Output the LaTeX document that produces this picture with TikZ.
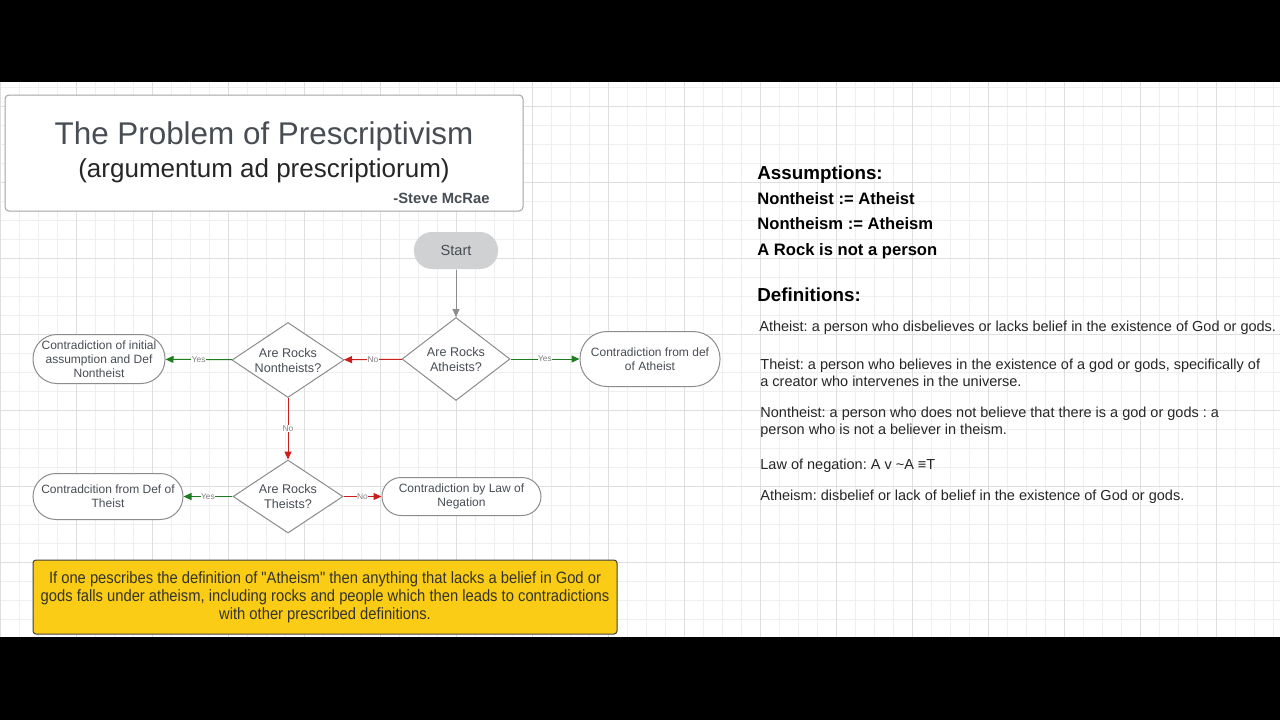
\documentclass[tikz,border=0pt]{standalone}
\usepackage{fontspec}
\setmainfont{Liberation Sans}
\newfontfamily\narrowfont[FakeStretch=0.9]{Liberation Sans}
\frenchspacing
\usetikzlibrary{arrows.meta,shapes.geometric,positioning}
\definecolor{gridMinor} {RGB}{239,239,239}
\definecolor{gridMajor} {RGB}{222,222,222}
\definecolor{inkGray}   {RGB}{72, 77, 84}
\definecolor{lineGray}  {RGB}{140,140,140}
\definecolor{startFill} {RGB}{208,209,211}
\definecolor{yesGreen}  {RGB}{30, 125, 30}
\definecolor{noRed}     {RGB}{205, 30, 30}
\definecolor{noteYellow}{RGB}{250,204, 21}

\begin{document}
\begin{tikzpicture}[x=0.5pt,y=-0.5pt,
          term/.style={rectangle,draw=lineGray,fill=white,line width=0.5pt,
                       font=\fontsize{6}{7}\selectfont,text=inkGray,align=center,inner sep=0pt},
          decide/.style={diamond,draw=lineGray,fill=white,line width=0.5pt,
                       font=\fontsize{6.3}{7.5}\selectfont,text=inkGray,align=center,inner sep=-3pt},
          yesarr/.style={-{Triangle[length=4pt,width=3.5pt]},yesGreen,line width=0.5pt},
          noarr/.style={-{Triangle[length=4pt,width=3.5pt]},noRed,line width=0.5pt},
          lbl/.style={font=\fontsize{4.2}{5}\selectfont,text=gray,fill=white,inner sep=0.3pt},
          asmp/.style={anchor=west,inner sep=0pt,font=\bfseries\fontsize{8.3}{10}\selectfont},
          head/.style={anchor=west,inner sep=0pt,font=\bfseries\fontsize{9.4}{11}\selectfont},
          defn/.style={anchor=west,inner sep=0pt,align=left,text=black!85,
                       font=\fontsize{7.25}{8.5}\selectfont},
        ]
        \useasboundingbox (0,0) rectangle (1280,720);
        % BACKGROUND
        \fill[white] (0,82) rectangle (1280,637);
        \foreach \x in {0,19,...,1280}
          \draw[gridMinor,line width=0.4pt] (\x,82)--(\x,637);
        \foreach \y in {87,106,...,637}
          \draw[gridMinor,line width=0.4pt] (0,\y)--(1280,\y);
        \foreach \x in {0,76,...,1280}
          \draw[gridMajor,line width=0.4pt] (\x,82)--(\x,637);
        \foreach \y in {106,182,...,637}
          \draw[gridMajor,line width=0.4pt] (0,\y)--(1280,\y);
        \fill[black] (0,0) rectangle (1280,82);
        \fill[black] (0,637) rectangle (1280,720);

        % TITLE
        \node[draw=lineGray!80,fill=white,rounded corners=2pt,line width=0.5pt,
              minimum width=259pt,minimum height=58pt](titlebox) at (264,153){};
        \node[text=inkGray,font=\fontsize{15.7}{18}\selectfont](title) at (264,136)
          {The Problem of Prescriptivism};
        \node[text=black!85,font=\fontsize{13}{15}\selectfont](subtitle) at (264,170.5)
          {(argumentum ad prescriptiorum)};
        \node[anchor=east,inner sep=0pt,text=inkGray,font=\bfseries\fontsize{7.4}{9}\selectfont](author)
          at (490,198){-Steve McRae};

        % FLOWCHART
        \node[term,fill=startFill,draw=none,font=\fontsize{7.3}{9}\selectfont,rounded corners=9pt,
              minimum width=42pt,minimum height=18.5pt](start) at (456,250.5){Start};
        \node[decide,minimum width=54pt,minimum height=41.5pt](qAth) at (456,359)
          {Are Rocks\\Atheists?};
        \node[decide,minimum width=56pt,minimum height=37.5pt](qNon) at (288,360)
          {Are Rocks\\Nontheists?};
        \node[decide,minimum width=55pt,minimum height=36.5pt](qThe) at (288,496.5)
          {Are Rocks\\Theists?};
        \node[term,rounded corners=12pt,minimum width=66pt,minimum height=24.5pt](cInit) at (99,359)
          {Contradiction of initial\\assumption and Def\\Nontheist};
        \node[term,rounded corners=13.5pt,minimum width=70pt,minimum height=27.5pt](cAth) at (650,359)
          {Contradiction from def\\of Atheist};
        \node[term,rounded corners=11.5pt,minimum width=75pt,minimum height=23pt](cThe) at (108,496.5)
          {Contradcition from Def of\\Theist};
        \node[term,rounded corners=9.5pt,minimum width=79.5pt,minimum height=19pt](cNeg) at (461.5,496.5)
          {Contradiction by Law of\\Negation};

        \draw[-{Triangle[length=4pt,width=3.5pt]},lineGray,line width=0.5pt](start)--(qAth);
        \draw[yesarr](qAth)--node[lbl]{Yes}(cAth);
        \draw[noarr](qAth)--node[lbl]{No}(qNon);
        \draw[yesarr](qNon)--node[lbl]{Yes}(cInit);
        \draw[noarr](qNon)--node[lbl]{No}(qThe);
        \draw[yesarr](qThe)--node[lbl]{Yes}(cThe);
        \draw[noarr](qThe)--node[lbl]{No}(cNeg);

        % NOTE
        \node[fill=noteYellow,draw=black!75,rounded corners=1.5pt,line width=0.5pt,
              minimum width=292pt,minimum height=37pt,align=center,text=black!80,
              font=\narrowfont\fontsize{8.2}{9}\selectfont](note) at (325,597)
          {If one pescribes the definition of "Atheism" then anything that lacks a belief in God or\\
           gods falls under atheism, including rocks and people which then leads to contradictions\\
           with other prescribed definitions.};

        % ASSUMPTIONS AND DEFINITIONS
        \node[head](asmHead) at (757,174.5){Assumptions:};
        \node[asmp](asm1) at (757,198.5){Nontheist := Atheist};
        \node[asmp](asm2) at (757,223.5){Nontheism := Atheism};
        \node[asmp](asm3) at (757,251.5){A Rock is not a person};
        \node[head](defHead) at (757,294.5){Definitions:};
        \node[defn](def1) at (759,328)
          {Atheist: a person who disbelieves or lacks belief in the existence of God or gods.};
        \node[defn](def2) at (760,372.5)
          {Theist: a person who believes in the existence of a god or gods, specifically of\\
           a creator who intervenes in the universe.};
        \node[defn](def3) at (760,422.5)
          {Nontheist: a person who does not believe that there is a god or gods : a\\
           person who is not a believer in theism.};
        \node[defn](def4) at (760,465.5){Law of negation: A v \textasciitilde A ≡T};
        \node[defn](def5) at (760,496.5)
          {Atheism: disbelief or lack of belief in the existence of God or gods.};
      \end{tikzpicture}
\end{document}
